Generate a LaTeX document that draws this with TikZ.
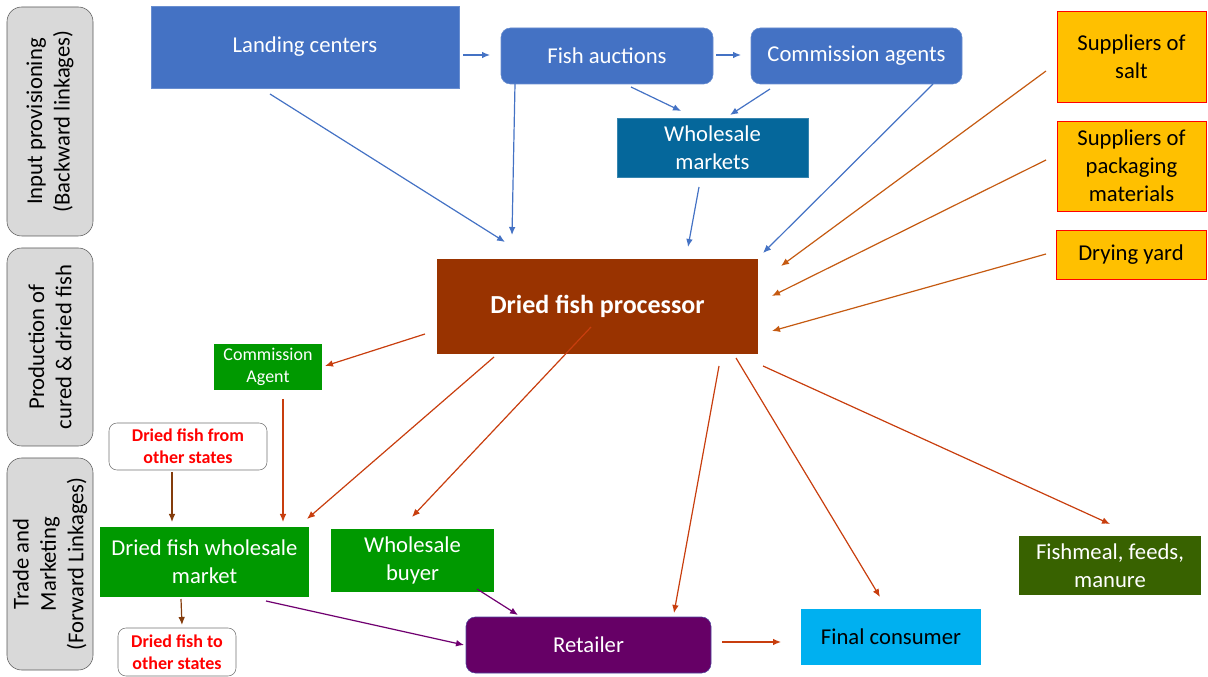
\documentclass[tikz,border=0pt]{standalone}
\usepackage{fontspec}
\setmainfont{Carlito}
\usetikzlibrary{arrows.meta}
\definecolor{cblue}{HTML}{4472C4}
\definecolor{cteal}{RGB}{5,103,155}
\definecolor{cgold}{HTML}{FFC000}
\definecolor{cbrown}{HTML}{993300}
\definecolor{cgreen}{HTML}{009900}
\definecolor{cpurple}{HTML}{660066}
\definecolor{csky}{HTML}{00B0F0}
\definecolor{cdkgreen}{RGB}{56,98,0}
\definecolor{cgray}{HTML}{D9D9D9}
\definecolor{aorange}{RGB}{197,90,17}
\definecolor{ared}{RGB}{200,62,14}
\definecolor{abrown}{RGB}{132,60,12}
\definecolor{apurple}{RGB}{112,0,112}
\tikzset{
  span/.style n args={4}{minimum width={(#3-#1)*0.75pt}, minimum height={(#4-#2)*0.75pt}, at={({(#1+#3)/2},{(#2+#4)/2})}},
  base/.style={inner sep=0pt, outer sep=0pt, align=center, font=\fontsize{17}{21}\selectfont},
  bluebox/.style={base, fill=cblue, draw=cblue!80!white, text=white},
  blueround/.style={bluebox, rounded corners=7pt},
  tealbox/.style={base, fill=cteal, draw=cteal!80!white, text=white},
  goldbox/.style={base, fill=cgold, draw=red, text=black},
  procbox/.style={base, fill=cbrown, text=white, font=\fontsize{19.5}{23}\bfseries},
  greenbox/.style={base, fill=cgreen, text=white},
  smallgreen/.style={greenbox, font=\fontsize{13.5}{17}\selectfont},
  whiteround/.style={base, fill=white, draw=black!55, rounded corners=6pt, text=red, font=\fontsize{13.5}{16.5}\bfseries},
  retbox/.style={base, fill=cpurple, draw=cblue!60!cpurple, rounded corners=7pt, text=white},
  fcbox/.style={base, fill=csky, text=black},
  fmbox/.style={base, fill=cdkgreen, text=white},
  graybox/.style={inner sep=0pt, outer sep=0pt, fill=cgray, draw=black!65, rounded corners=11pt},
  graytext/.style={rotate=90, align=center, font=\fontsize{17}{20.5}\selectfont},
  arr/.style={line width=0.9pt, -{Latex[length=6pt,width=5pt]}},
  barr/.style={arr, draw=cblue},
  oarr/.style={arr, draw=aorange},
  rarr/.style={arr, draw=ared},
  brarr/.style={arr, draw=abrown},
  parr/.style={arr, draw=apurple},
}
\begin{document}
\begin{tikzpicture}[x=0.75pt,y=-0.75pt]
\useasboundingbox (0,0) rectangle (1208,677);

% left stage boxes
\node[graybox, span={7}{7}{93}{236}] (g1) {};
\node[graytext] (g1t) at (g1.center) {Input provisioning\\(Backward linkages)};
\node[graybox, span={7}{248}{93}{446}] (g2) {};
\node[graytext] (g2t) at (g2.center) {Production of\\cured \& dried fish};
\node[graybox, span={7}{458}{93}{670}] (g3) {};
\node[graytext] (g3t) at (g3.center) {Trade and\\Marketing\\(Forward Linkages)};

% nodes
\node[bluebox, span={151}{6}{459}{88}] (lc) {Landing centers};
\node[blueround, span={501}{28}{713}{84}] (fa) {Fish auctions};
\node[blueround, span={751}{28}{962}{84}] (ca) {Commission agents};
\node[tealbox, span={617}{118}{808}{177}] (wm) {Wholesale\\markets};
\node[goldbox, span={1057}{11}{1206}{102}] (salt) {Suppliers of\\salt};
\node[goldbox, span={1057}{121}{1206}{211}] (pack) {Suppliers of\\packaging\\materials};
\node[goldbox, span={1056}{230}{1206}{279}] (dry) {Drying yard};
\node[procbox, span={437}{259}{758}{354}] (proc) {Dried fish processor};
\node[smallgreen, span={214}{344}{322}{390}] (cag) {Commission\\Agent};
\node[whiteround, span={109}{423}{267}{470}] (from) {Dried fish from\\other states};
\node[greenbox, span={100}{527}{309}{597}] (dfwm) {Dried fish wholesale\\market};
\node[greenbox, span={331}{529}{494}{592}] (wb) {Wholesale\\buyer};
\node[retbox, span={466}{617}{711}{673}] (ret) {Retailer};
\node[fcbox, span={801}{609}{981}{665}] (fc) {Final consumer};
\node[fmbox, span={1019}{536}{1201}{595}] (fm) {Fishmeal, feeds,\\manure};
\node[whiteround, span={118}{628}{236}{676}] (to) {Dried fish to\\other states};

% blue connectors
\draw[barr] ([shift={(312,49)}]lc.north west) -- ([shift={(-11,27)}]fa.north west);
\draw[barr] ([shift={(215,27)}]fa.north west) -- ([shift={(-10,27)}]ca.north west);
\draw[barr] ([shift={(119,88)}]lc.north west) -- ([shift={(68,-17)}]proc.north west);
\draw[barr] ([shift={(14,56)}]fa.north west) -- ([shift={(75,-24)}]proc.north west);
\draw[barr] ([shift={(130,59)}]fa.north west) -- ([shift={(64,-7)}]wm.north west);
\draw[barr] ([shift={(19,61)}]ca.north west) -- ([shift={(113,-3)}]wm.north west);
\draw[barr] ([shift={(82,69)}]wm.north west) -- ([shift={(251,-12)}]proc.north west);
\draw[barr] ([shift={(182,56)}]ca.north west) -- ([shift={(326,-6)}]proc.north west);

% supplier connectors
\draw[oarr] ([shift={(-11,60)}]salt.north west) -- ([shift={(344,7)}]proc.north west);
\draw[oarr] ([shift={(-11,39)}]pack.north west) -- ([shift={(335,37)}]proc.north west);
\draw[oarr] ([shift={(-10,24)}]dry.north west) -- ([shift={(335,72)}]proc.north west);

% processor outputs
\draw[rarr] ([shift={(-12,75)}]proc.north west) -- ([shift={(111,22)}]cag.north west);
\draw[rarr] ([shift={(69,55)}]cag.north west) -- ([shift={(183,-5)}]dfwm.north west);
\draw[rarr] ([shift={(57,98)}]proc.north west) -- ([shift={(207,-8)}]dfwm.north west);
\draw[rarr] ([shift={(154,68)}]proc.north west) -- ([shift={(81,-12)}]wb.north west);
\draw[rarr] ([shift={(282,107)}]proc.north west) -- ([shift={(208,-4)}]ret.north west);
\draw[rarr] ([shift={(299,99)}]proc.north west) -- ([shift={(79,-12)}]fc.north west);
\draw[rarr] ([shift={(326,107)}]proc.north west) -- ([shift={(91,-12)}]fm.north west);
\draw[rarr] ([shift={(256,25)}]ret.north west) -- ([shift={(-20,33)}]fc.north west);

% brown connectors
\draw[brarr] ([shift={(63,49)}]from.north west) -- ([shift={(72,-5)}]dfwm.north west);
\draw[brarr] ([shift={(81,72)}]dfwm.north west) -- ([shift={(64,-3)}]to.north west);

% purple connectors
\draw[parr] ([shift={(166,74)}]dfwm.north west) -- ([shift={(-2,28)}]ret.north west);
\draw[parr] ([shift={(146,60)}]wb.north west) -- ([shift={(52,-2)}]ret.north west);
\end{tikzpicture}
\end{document}
